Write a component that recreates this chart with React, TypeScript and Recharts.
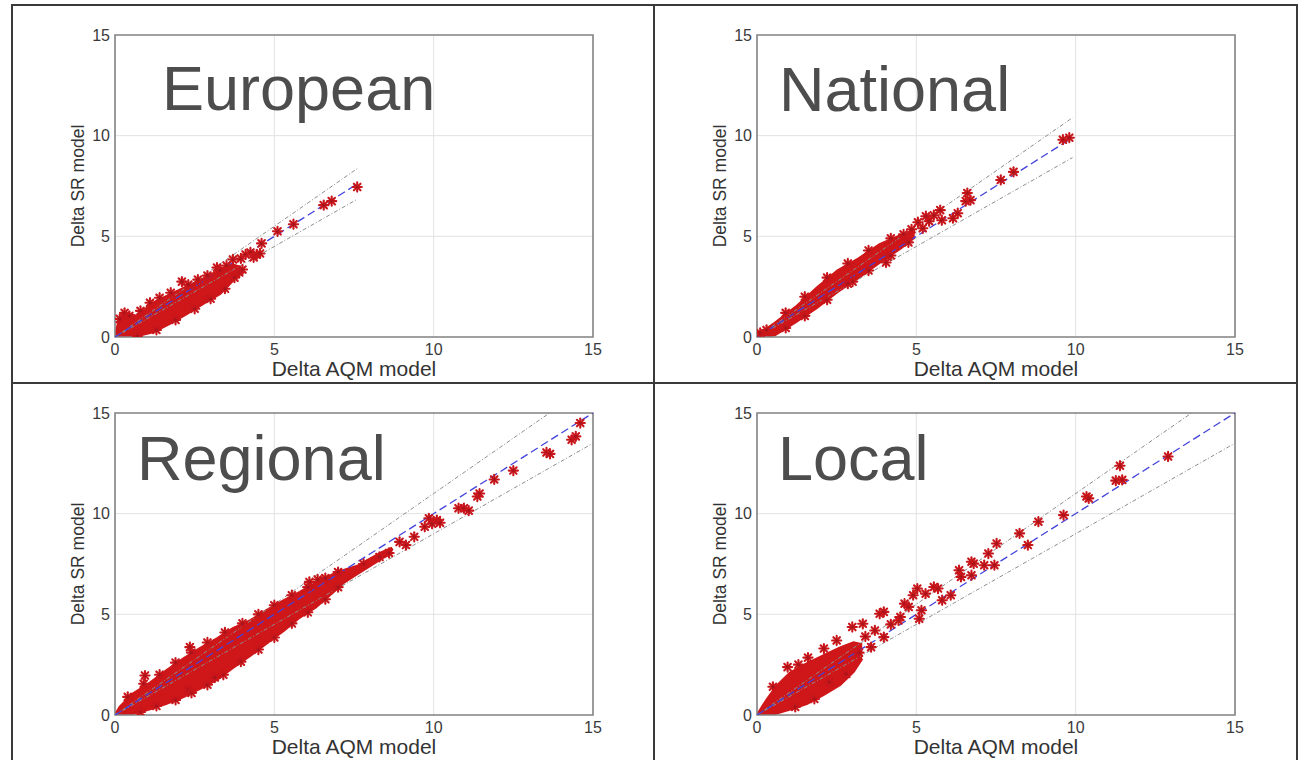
import React from 'react';
import {
  ComposedChart,
  Area,
  Scatter,
  XAxis,
  YAxis,
  CartesianGrid,
  ReferenceLine,
  ReferenceArea,
} from 'recharts';

const axisTicks = [0, 5, 10, 15];
const panelTitles = ['European', 'National', 'Regional', 'Local'];
const fitEnds = [7.6, 9.9, 15, 15];
const tolerance = 0.1;
const xAxisTitle = 'Delta AQM model';
const yAxisTitle = 'Delta SR model';

const europeanBand = [
  { x: 0, band: [0, 0] },
  { x: 0.1, band: [0, 0.7] },
  { x: 0.25, band: [0, 1.2] },
  { x: 0.4, band: [0.02, 1.15] },
  { x: 0.68, band: [0.05, 1.05] },
  { x: 1.2, band: [0.25, 1.7] },
  { x: 1.72, band: [0.66, 2.1] },
  { x: 2.25, band: [1.15, 2.5] },
  { x: 2.77, band: [1.65, 2.9] },
  { x: 3.3, band: [2.15, 3.35] },
  { x: 3.7, band: [2.8, 3.6] },
  { x: 3.95, band: [3.15, 3.45] },
];
const europeanPoints = [
  { x: 0.15, y: 0.9 }, { x: 0.3, y: 1.2 }, { x: 0.45, y: 1.05 }, { x: 0.8, y: 1.3 },
  { x: 1.1, y: 1.7 }, { x: 1.4, y: 1.95 }, { x: 1.75, y: 2.2 }, { x: 2.1, y: 2.75 },
  { x: 2.3, y: 2.6 }, { x: 2.6, y: 2.85 }, { x: 2.9, y: 3.05 }, { x: 3.2, y: 3.45 },
  { x: 3.5, y: 3.55 }, { x: 3.7, y: 3.85 }, { x: 3.95, y: 3.9 }, { x: 4.1, y: 4.1 },
  { x: 4.25, y: 4.2 }, { x: 3.9, y: 3.2 }, { x: 4.0, y: 3.35 }, { x: 4.35, y: 3.95 },
  { x: 4.45, y: 4.1 }, { x: 4.55, y: 4.15 }, { x: 4.6, y: 4.65 }, { x: 5.1, y: 5.25 },
  { x: 5.6, y: 5.6 }, { x: 6.55, y: 6.55 }, { x: 6.8, y: 6.75 }, { x: 7.6, y: 7.45 },
  { x: 0.7, y: 0.05 }, { x: 1.3, y: 0.35 }, { x: 1.9, y: 0.85 }, { x: 2.5, y: 1.4 },
  { x: 3.0, y: 1.9 }, { x: 3.45, y: 2.4 }, { x: 3.75, y: 2.95 }, { x: 3.3, y: 3.3 },
];

const nationalBand = [
  { x: 0, band: [0, 0] },
  { x: 0.2, band: [0, 0.3] },
  { x: 0.56, band: [0.1, 0.7] },
  { x: 1.22, band: [0.75, 1.5] },
  { x: 1.88, band: [1.45, 2.45] },
  { x: 2.53, band: [2.25, 3.3] },
  { x: 3.19, band: [2.95, 3.9] },
  { x: 3.85, band: [3.7, 4.6] },
  { x: 4.5, band: [4.4, 5.05] },
  { x: 4.95, band: [4.95, 5.3] },
];
const nationalPoints = [
  { x: 0.1, y: 0.2 }, { x: 0.3, y: 0.35 }, { x: 0.9, y: 1.2 }, { x: 1.5, y: 2.0 },
  { x: 2.2, y: 2.95 }, { x: 2.85, y: 3.65 }, { x: 3.5, y: 4.3 }, { x: 4.2, y: 4.9 },
  { x: 4.6, y: 5.1 }, { x: 4.85, y: 5.35 }, { x: 5.05, y: 5.7 }, { x: 5.3, y: 6.0 },
  { x: 5.55, y: 6.05 }, { x: 5.75, y: 6.3 }, { x: 5.8, y: 5.8 }, { x: 6.15, y: 5.9 },
  { x: 6.3, y: 6.15 }, { x: 6.55, y: 6.75 }, { x: 6.6, y: 7.15 }, { x: 6.7, y: 6.8 },
  { x: 7.65, y: 7.8 }, { x: 8.05, y: 8.2 }, { x: 9.6, y: 9.8 }, { x: 9.8, y: 9.9 },
  { x: 4.05, y: 3.7 }, { x: 3.0, y: 2.75 }, { x: 0.9, y: 0.45 }, { x: 1.5, y: 1.05 },
  { x: 2.2, y: 1.85 }, { x: 2.85, y: 2.65 }, { x: 3.5, y: 3.3 }, { x: 4.2, y: 4.05 },
  { x: 4.75, y: 4.7 }, { x: 5.2, y: 5.4 }, { x: 5.4, y: 5.75 },
];

const regionalBand = [
  { x: 0, band: [0, 0] },
  { x: 0.15, band: [0, 0.4] },
  { x: 0.55, band: [0.05, 1.05] },
  { x: 1.1, band: [0.3, 1.6] },
  { x: 1.6, band: [0.55, 2.2] },
  { x: 2.15, band: [0.9, 2.8] },
  { x: 2.65, band: [1.3, 3.3] },
  { x: 3.2, band: [1.75, 3.8] },
  { x: 3.7, band: [2.35, 4.3] },
  { x: 4.25, band: [2.95, 4.7] },
  { x: 4.75, band: [3.55, 5.2] },
  { x: 5.3, band: [4.2, 5.7] },
  { x: 5.8, band: [4.85, 6.1] },
  { x: 6.3, band: [5.35, 6.55] },
  { x: 6.85, band: [6.1, 7.0] },
  { x: 7.2, band: [6.6, 7.2] },
  { x: 7.6, band: [7.0, 7.4] },
  { x: 8.0, band: [7.4, 7.75] },
  { x: 8.4, band: [7.8, 8.1] },
  { x: 8.7, band: [8.05, 8.3] },
];
const regionalPoints = [
  { x: 0.94, y: 1.96 }, { x: 2.3, y: 1.26 }, { x: 3.13, y: 1.86 }, { x: 2.35, y: 3.37 },
  { x: 6.1, y: 6.61 }, { x: 6.36, y: 6.73 }, { x: 8.93, y: 8.6 }, { x: 9.13, y: 8.44 },
  { x: 9.39, y: 8.85 }, { x: 9.72, y: 9.35 }, { x: 9.85, y: 9.77 }, { x: 10.1, y: 9.68 },
  { x: 9.95, y: 9.5 }, { x: 10.2, y: 9.55 }, { x: 10.78, y: 10.27 }, { x: 10.95, y: 10.27 },
  { x: 11.1, y: 10.15 }, { x: 11.37, y: 10.85 }, { x: 11.44, y: 11.0 }, { x: 11.9, y: 11.7 },
  { x: 12.5, y: 12.14 }, { x: 13.54, y: 13.04 }, { x: 13.65, y: 12.97 }, { x: 14.33, y: 13.67 },
  { x: 14.46, y: 13.84 }, { x: 14.6, y: 14.5 }, { x: 0.4, y: 0.9 }, { x: 0.9, y: 1.55 },
  { x: 1.4, y: 2.0 }, { x: 1.9, y: 2.6 }, { x: 2.4, y: 3.1 }, { x: 2.9, y: 3.6 },
  { x: 3.45, y: 4.1 }, { x: 4.0, y: 4.55 }, { x: 4.5, y: 5.0 }, { x: 5.0, y: 5.45 },
  { x: 5.55, y: 5.95 }, { x: 6.05, y: 6.35 }, { x: 6.6, y: 6.8 }, { x: 7.0, y: 7.1 },
  { x: 0.8, y: 0.15 }, { x: 1.3, y: 0.45 }, { x: 1.9, y: 0.75 }, { x: 2.4, y: 1.1 },
  { x: 2.9, y: 1.5 }, { x: 3.4, y: 2.0 }, { x: 3.95, y: 2.65 }, { x: 4.5, y: 3.25 },
  { x: 5.0, y: 3.85 }, { x: 5.55, y: 4.55 }, { x: 6.05, y: 5.1 }, { x: 6.6, y: 5.75 },
  { x: 7.0, y: 6.35 }, { x: 7.8, y: 7.5 }, { x: 8.3, y: 7.85 }, { x: 8.6, y: 8.05 },
];

const localBand = [
  { x: 0, band: [0, 0] },
  { x: 0.3, band: [0, 0.75] },
  { x: 0.62, band: [0.08, 1.45] },
  { x: 1.04, band: [0.28, 2.1] },
  { x: 1.56, band: [0.55, 2.55] },
  { x: 2.08, band: [1.0, 2.95] },
  { x: 2.61, band: [1.5, 3.35] },
  { x: 3.03, band: [2.15, 3.6] },
  { x: 3.3, band: [2.8, 3.5] },
];
const localPoints = [
  { x: 0.96, y: 2.38 }, { x: 2.99, y: 4.37 }, { x: 3.32, y: 4.53 }, { x: 3.85, y: 5.03 },
  { x: 3.98, y: 5.12 }, { x: 4.44, y: 4.7 }, { x: 4.5, y: 4.87 }, { x: 4.63, y: 5.53 },
  { x: 4.9, y: 5.95 }, { x: 5.03, y: 6.28 }, { x: 5.29, y: 6.03 }, { x: 5.55, y: 6.36 },
  { x: 5.68, y: 6.28 }, { x: 4.76, y: 5.37 }, { x: 5.16, y: 5.2 }, { x: 5.09, y: 4.78 },
  { x: 5.81, y: 5.7 }, { x: 6.08, y: 5.95 }, { x: 6.34, y: 7.19 }, { x: 6.4, y: 6.86 },
  { x: 6.73, y: 7.61 }, { x: 6.8, y: 7.52 }, { x: 6.73, y: 6.94 }, { x: 7.13, y: 7.44 },
  { x: 7.26, y: 8.02 }, { x: 7.45, y: 7.44 }, { x: 7.52, y: 8.52 }, { x: 8.24, y: 9.02 },
  { x: 8.5, y: 8.44 }, { x: 8.83, y: 9.6 }, { x: 9.62, y: 9.93 }, { x: 10.34, y: 10.85 },
  { x: 10.41, y: 10.76 }, { x: 11.26, y: 11.64 }, { x: 11.46, y: 11.68 }, { x: 11.39, y: 12.38 },
  { x: 12.9, y: 12.84 }, { x: 2.27, y: 1.63 }, { x: 2.8, y: 2.04 }, { x: 3.58, y: 3.37 },
  { x: 3.98, y: 3.87 }, { x: 3.2, y: 3.1 }, { x: 3.4, y: 3.9 }, { x: 2.5, y: 3.7 },
  { x: 1.6, y: 2.85 }, { x: 2.1, y: 3.3 }, { x: 3.7, y: 4.2 }, { x: 4.2, y: 4.5 },
  { x: 0.5, y: 1.4 }, { x: 1.3, y: 2.5 }, { x: 1.2, y: 0.4 }, { x: 1.8, y: 0.8 },
];

const bands = [europeanBand, nationalBand, regionalBand, localBand];
const pointSets = [europeanPoints, nationalPoints, regionalPoints, localPoints];

const RED = '#cf1719';
const FONT = '"Liberation Sans", Arial, sans-serif';

const Star = (props: any) => {
  const { cx, cy } = props;
  if (cx == null || cy == null) return null;
  const r = 4.6;
  const d = 3.3;
  return (
    <g stroke="#c8161b" strokeWidth={2.1} strokeLinecap="round">
      <line x1={cx - r} y1={cy} x2={cx + r} y2={cy} />
      <line x1={cx} y1={cy - r} x2={cx} y2={cy + r} />
      <line x1={cx - d} y1={cy - d} x2={cx + d} y2={cy + d} />
      <line x1={cx - d} y1={cy + d} x2={cx + d} y2={cy - d} />
      <circle cx={cx} cy={cy} r={1.6} fill="#a8141c" stroke="none" />
    </g>
  );
};

const PLOT_W = 478;
const PLOT_H = 302;
const Y_AXIS_W = 70;
const X_AXIS_H = 44;
const M_TOP = 10;
const M_RIGHT = 12;

const tickStyle = { fontSize: 16, fill: '#3a3a3a', fontFamily: FONT };

function Panel({ index, plotLeft, plotTop }: { index: number; plotLeft: number; plotTop: number }) {
  const end = fitEnds[index];
  const upX = Math.min(end, 15 / (1 + tolerance));
  return (
    <div style={{ position: 'absolute', left: plotLeft - Y_AXIS_W, top: plotTop - M_TOP }}>
      <ComposedChart
        width={Y_AXIS_W + PLOT_W + M_RIGHT}
        height={M_TOP + PLOT_H + X_AXIS_H}
        data={bands[index]}
        margin={{ top: M_TOP, right: M_RIGHT, bottom: 0, left: 0 }}
      >
        <CartesianGrid stroke="#e2e2e2" strokeWidth={1} />
        <XAxis
          type="number"
          dataKey="x"
          domain={[0, 15]}
          ticks={axisTicks}
          allowDataOverflow
          tickLine={false}
          axisLine={false}
          tickSize={0}
          tickMargin={7}
          height={X_AXIS_H}
          tick={tickStyle}
          label={{
            value: xAxisTitle,
            position: 'insideBottom',
            offset: 5,
            style: { fontSize: 21, fill: '#333', fontFamily: FONT },
          }}
        />
        <YAxis
          type="number"
          dataKey="y"
          domain={[0, 15]}
          ticks={axisTicks}
          allowDataOverflow
          tickLine={false}
          axisLine={false}
          tickSize={0}
          tickMargin={5}
          width={Y_AXIS_W}
          tick={tickStyle}
          label={{
            value: yAxisTitle,
            angle: -90,
            position: 'insideLeft',
            offset: 33,
            style: { textAnchor: 'middle', fontSize: 17.5, fill: '#333', fontFamily: FONT },
          }}
        />
        <Area
          type="linear"
          dataKey="band"
          stroke={RED}
          strokeWidth={2.5}
          fill={RED}
          fillOpacity={1}
          isAnimationActive={false}
          dot={false}
          activeDot={false}
        />
        <Scatter data={pointSets[index]} shape={Star} isAnimationActive={false} />
        <ReferenceLine
          segment={[{ x: 0, y: 0 }, { x: upX, y: upX * (1 + tolerance) }]}
          stroke="#8d8d8d"
          strokeWidth={1}
          strokeDasharray="4 2 1 2"
          ifOverflow="hidden"
        />
        <ReferenceLine
          segment={[{ x: 0, y: 0 }, { x: end, y: end * (1 - tolerance) }]}
          stroke="#8d8d8d"
          strokeWidth={1}
          strokeDasharray="4 2 1 2"
          ifOverflow="hidden"
        />
        <ReferenceLine
          segment={[{ x: 0, y: 0 }, { x: end, y: end }]}
          stroke="#4343dc"
          strokeWidth={1.3}
          strokeDasharray="8 4"
          ifOverflow="hidden"
        />
        <ReferenceArea x1={0} x2={15} y1={0} y2={15} fill="none" stroke="#858585" strokeWidth={1.6} />
      </ComposedChart>
    </div>
  );
}

const titlePos = [
  { x: 162, y: 110 },
  { x: 779, y: 111 },
  { x: 137, y: 480 },
  { x: 778, y: 480 },
];
const plotPos = [
  { left: 115, top: 35 },
  { left: 757, top: 35 },
  { left: 115, top: 413 },
  { left: 757, top: 413 },
];

export default function App() {
  return (
    <div
      style={{
        position: 'relative',
        width: 1304,
        height: 760,
        background: '#fff',
        overflow: 'hidden',
        fontFamily: FONT,
      }}
    >
      <style>{'body{margin:0}'}</style>
      {plotPos.map((p, i) => (
        <Panel key={i} index={i} plotLeft={p.left} plotTop={p.top} />
      ))}
      <svg
        width={1304}
        height={760}
        style={{ position: 'absolute', left: 0, top: 0, pointerEvents: 'none' }}
      >
        <rect x={12} y={5} width={1285} height={770} fill="none" stroke="#3a3a3a" strokeWidth={2} />
        <line x1={654} y1={5} x2={654} y2={760} stroke="#3a3a3a" strokeWidth={2} />
        <line x1={12} y1={383} x2={1297} y2={383} stroke="#3a3a3a" strokeWidth={2} />
        {panelTitles.map((t, i) => (
          <text key={t} x={titlePos[i].x} y={titlePos[i].y} fontSize={63} fill="#4d4d4d" fontFamily={FONT}>
            {t}
          </text>
        ))}
      </svg>
    </div>
  );
}
